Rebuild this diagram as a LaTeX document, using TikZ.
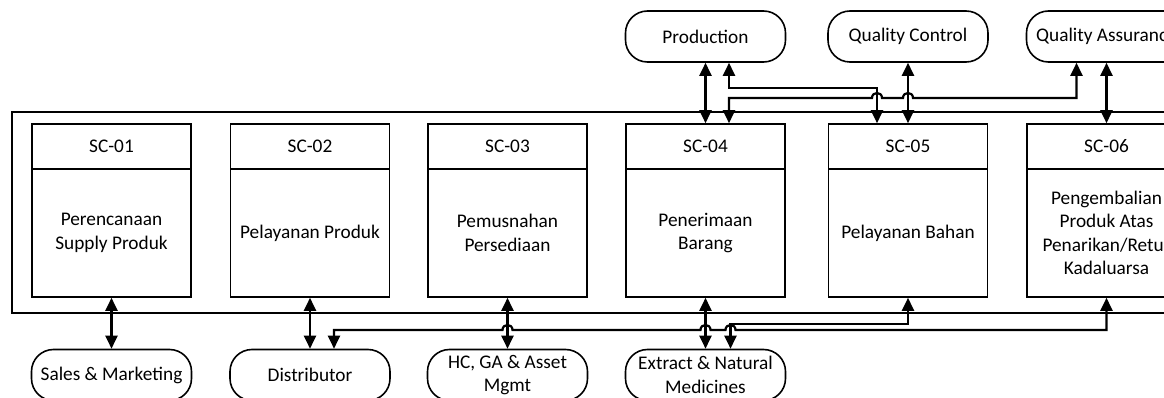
\documentclass[tikz,border=0pt]{standalone}
\usepackage{fontspec}
\setmainfont{Carlito}
\usetikzlibrary{arrows.meta}

\begin{document}
\begin{tikzpicture}[x=1pt,y=-1pt,
  txt/.style={font=\fontsize{19.3}{23.5}\selectfont, align=center},
  head/.style={draw, line width=1.6pt, minimum width=159pt, minimum height=45pt, inner sep=0pt, txt},
  body/.style={draw, line width=1.6pt, minimum width=159pt, minimum height=128pt, inner sep=0pt, txt},
  term/.style={draw, line width=1.6pt, rounded corners=22pt, minimum width=160pt, minimum height=51pt, inner sep=0pt, txt},
  conn/.style={line width=2.2pt, {Triangle[length=13pt,width=12pt]}-{Triangle[length=13pt,width=12pt]}},
  frame/.style={line width=1.6pt},
  heading/.style={font=\bfseries\fontsize{24}{24}\selectfont, anchor=base, inner sep=0pt}]

\useasboundingbox (0,0) rectangle (1164,398);
\clip (0,0) rectangle (1164,398);

% heading, only the descenders fall inside the page
\node[heading] (ga) at (100,-4) {g};
\node[heading] (gb) at (251,-4) {g};

% system boundary
\draw[frame] (12,112) rectangle (1200,313);

% processes: header and body
\node[head] (h1) at (111.5,146.5) {SC-01};
\node[body] (b1) at (111.5,233) {Perencanaan\\Supply Produk};
\node[head] (h2) at (310,146.5) {SC-02};
\node[body] (b2) at (310,233) {Pelayanan Produk};
\node[head] (h3) at (507.5,146.5) {SC-03};
\node[body] (b3) at (507.5,233) {Pemusnahan\\Persediaan};
\node[head] (h4) at (705.5,146.5) {SC-04};
\node[body] (b4) at (705.5,233) {Penerimaan\\Barang};
\node[head] (h5) at (908,146.5) {SC-05};
\node[body] (b5) at (908,233) {Pelayanan Bahan};
\node[head] (h6) at (1106.5,146.5) {SC-06};
\node[body] (b6) at (1106.5,233) {Pengembalian\\Produk Atas\\Penarikan/Retur\\Kadaluarsa};

% external units, top row
\node[term] (prod) at (705.5,36.5) {Production};
\node[term] (qc) at (908,36.5) {Quality Control};
\node[term] (qa) at (1106.5,36.5) {Quality Assurance};

% external units, bottom row
\node[term] (sm) at (111.5,375) {Sales \& Marketing};
\node[term] (dist) at (310,375) {Distributor};
\node[term] (hc) at (507.5,375) {HC, GA \& Asset\\Mgmt};
\node[term] (ext) at (705.5,375) {Extract \& Natural\\Medicines};

% top connectors
\draw[conn] (prod.south) -- (h4.north);
\draw[conn] ([xshift=23.5pt]prod.south) -- ++(0,25) -| ([xshift=-31pt]h5.north);
\draw[conn] ([xshift=-30pt]qa.south) |- (913,98)
  .. controls (913,91.3) and (903,91.3) .. (903,98) -- (882,98)
  .. controls (882,91.3) and (872,91.3) .. (872,98)
  -| ([xshift=23.5pt]h4.north);
\draw[conn] (qc.south) -- (h5.north);
\draw[conn] (qa.south) -- (h6.north);

% bottom connectors
\draw[conn] (b1.south) -- (sm.north);
\draw[conn] (b2.south) -- (dist.north);
\draw[conn] (b3.south) -- (hc.north);
\draw[conn] (b4.south) -- (ext.north);
\draw[conn] (b5.south) -- ++(0,26) -| ([xshift=25pt]ext.north);
\draw[conn] (b6.south) |- (735.5,330)
  .. controls (735.5,323.3) and (725.5,323.3) .. (725.5,330) -- (710.5,330)
  .. controls (710.5,323.3) and (700.5,323.3) .. (700.5,330) -- (512.5,330)
  .. controls (512.5,323.3) and (502.5,323.3) .. (502.5,330)
  -| ([xshift=24pt]dist.north);

\end{tikzpicture}
\end{document}
